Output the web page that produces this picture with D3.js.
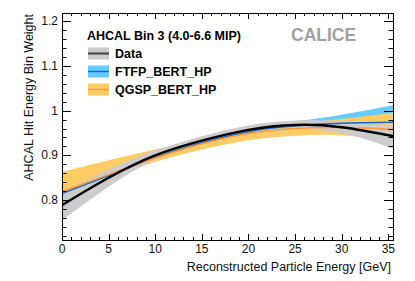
<!DOCTYPE html>
<html>
<head>
<meta charset="utf-8">
<script src="https://cdn.jsdelivr.net/npm/d3@7"></script>
<style>
  body { margin: 0; background: #fff; }
  svg { display: block; font-family: "Liberation Sans", Arial, sans-serif; }
</style>
</head>
<body>
<script>
// reconstructed energy sample points [GeV]
var energy = [0, 5, 10, 15, 20, 25, 30, 35.5];

// data fit and its uncertainty band
var dataMean = [0.789, 0.850, 0.900, 0.933, 0.957, 0.968, 0.963, 0.943];
var dataLow  = [0.755, 0.830, 0.890, 0.924, 0.947, 0.957, 0.950, 0.915];
var dataHigh = [0.815, 0.868, 0.911, 0.943, 0.967, 0.978, 0.976, 0.966];

// FTFP_BERT_HP
var ftfpMean = [0.815, 0.855, 0.895, 0.928, 0.953, 0.966, 0.972, 0.974];
var ftfpLow  = [0.811, 0.851, 0.890, 0.922, 0.946, 0.957, 0.955, 0.940];
var ftfpHigh = [0.820, 0.859, 0.900, 0.934, 0.960, 0.976, 0.991, 1.012];

// QGSP_BERT_HP
var qgspMean = [0.819, 0.857, 0.894, 0.926, 0.949, 0.960, 0.962, 0.958];
var qgspLow  = [0.815, 0.850, 0.885, 0.913, 0.934, 0.944, 0.945, 0.930];
var qgspHigh = [0.863, 0.889, 0.913, 0.936, 0.956, 0.970, 0.981, 0.995];

var legendLabels = ["Data", "FTFP_BERT_HP", "QGSP_BERT_HP"];
var xTicks = [0, 5, 10, 15, 20, 25, 30, 35];
var yTicks = [0.8, 0.9, 1, 1.1, 1.2];

var W = 415, H = 281;
var m = {left: 62, top: 13, right: 22, bottom: 41};
var w = W - m.left - m.right, h = H - m.top - m.bottom;

var svg = d3.select("body").append("svg").attr("width", W).attr("height", H);
var g = svg.append("g").attr("transform", "translate(" + m.left + "," + m.top + ")");

var x = d3.scaleLinear().domain([0, 35.5]).range([0, w]);
var y = d3.scaleLinear().domain([0.711, 1.218]).range([h, 0]);

var clip = svg.append("clipPath").attr("id", "clip").append("rect").attr("width", w).attr("height", h);
var plot = g.append("g").attr("clip-path", "url(#clip)");

function band(lo, hi) {
    return d3.area().curve(d3.curveNatural)
        .x(function(d, i) { return x(energy[i]); })
        .y0(function(d, i) { return y(lo[i]); })
        .y1(function(d, i) { return y(hi[i]); })(energy);
}
function line(v) {
    return d3.line().curve(d3.curveNatural)
        .x(function(d, i) { return x(energy[i]); })
        .y(function(d, i) { return y(v[i]); })(energy);
}

var colors = {
    dataBand: "#cccccc", dataLine: "#000000",
    ftfpBand: "#66ccff", ftfpLine: "#1a66cc",
    qgspBand: "#ffcc66", qgspLine: "#ff9933"
};

plot.append("path").attr("d", band(ftfpLow, ftfpHigh)).attr("fill", colors.ftfpBand);
plot.append("path").attr("d", band(qgspLow, qgspHigh)).attr("fill", colors.qgspBand);
plot.append("path").attr("d", band(dataLow, dataHigh)).attr("fill", colors.dataBand);
plot.append("path").attr("d", line(ftfpMean)).attr("fill", "none").attr("stroke", colors.ftfpLine).attr("stroke-width", 1.5);
plot.append("path").attr("d", line(qgspMean)).attr("fill", "none").attr("stroke", colors.qgspLine).attr("stroke-width", 1.5);
plot.append("path").attr("d", line(dataMean)).attr("fill", "none").attr("stroke", colors.dataLine).attr("stroke-width", 2.5);

// ROOT style ticks: inward on all four sides
var xMinor = d3.range(0, 36, 1);
var yMinor = d3.range(0.72, 1.22, 0.02);
var ax = g.append("g").attr("stroke", "#000").attr("stroke-width", 1);
xMinor.forEach(function(v) {
    var major = v % 5 === 0, len = major ? 6 : 3;
    var px = Math.round(x(v)) + 0.5;
    ax.append("line").attr("x1", px).attr("x2", px).attr("y1", h).attr("y2", h - len);
    ax.append("line").attr("x1", px).attr("x2", px).attr("y1", 0).attr("y2", len);
});
yMinor.forEach(function(v) {
    var major = Math.abs(Math.round(v * 10) - v * 10) < 1e-6, len = major ? 9 : 4.5;
    var py = Math.round(y(v)) + 0.5;
    ax.append("line").attr("x1", 0).attr("x2", len).attr("y1", py).attr("y2", py);
    ax.append("line").attr("x1", w).attr("x2", w - len).attr("y1", py).attr("y2", py);
});
g.append("rect").attr("x", 0.5).attr("y", 0.5).attr("width", w).attr("height", h)
    .attr("fill", "none").attr("stroke", "#000");

// tick labels
g.selectAll(".xl").data(xTicks).enter().append("text")
    .attr("x", function(d) { return x(d); }).attr("y", h + 13)
    .attr("text-anchor", "middle").attr("font-size", 12).attr("fill", "#111").text(function(d) { return d; });
g.selectAll(".yl").data(yTicks).enter().append("text")
    .attr("x", -4).attr("y", function(d) { return y(d) + 4; })
    .attr("text-anchor", "end").attr("font-size", 12).attr("fill", "#111").text(function(d) { return d; });

// axis titles
g.append("text").attr("x", w - 2).attr("y", h + 31).attr("text-anchor", "end")
    .attr("font-size", 12.5).attr("fill", "#111").text("Reconstructed Particle Energy [GeV]");
g.append("text").attr("transform", "translate(-29,1) rotate(-90)").attr("text-anchor", "end")
    .attr("font-size", 12.5).attr("fill", "#111").text("AHCAL Hit Energy Bin Weight");

// legend
var leg = g.append("g").attr("transform", "translate(25,0)");
leg.append("text").attr("x", 0).attr("y", 26.5).attr("font-size", 12.5).attr("font-weight", "bold")
    .text("AHCAL Bin 3 (4.0-6.6 MIP)");
var legBand = [colors.dataBand, colors.ftfpBand, colors.qgspBand];
var legLine = ["#444444", colors.ftfpLine, colors.qgspLine];
legendLabels.forEach(function(t, i) {
    var cy = 40.5 + i * 18;
    leg.append("rect").attr("x", 1).attr("y", cy - 6).attr("width", 21).attr("height", 12).attr("fill", legBand[i]);
    leg.append("line").attr("x1", 1).attr("x2", 22).attr("y1", cy).attr("y2", cy)
        .attr("stroke", legLine[i]).attr("stroke-width", i === 0 ? 2 : 1.5);
    leg.append("text").attr("x", 28).attr("y", cy + 4.5).attr("font-size", 12.5).attr("font-weight", "bold").text(t);
});

g.append("text").attr("x", 229).attr("y", 28).attr("font-size", 17.5).attr("font-weight", "bold")
    .attr("fill", "#a0a0a0").text("CALICE");
</script>
</body>
</html>
